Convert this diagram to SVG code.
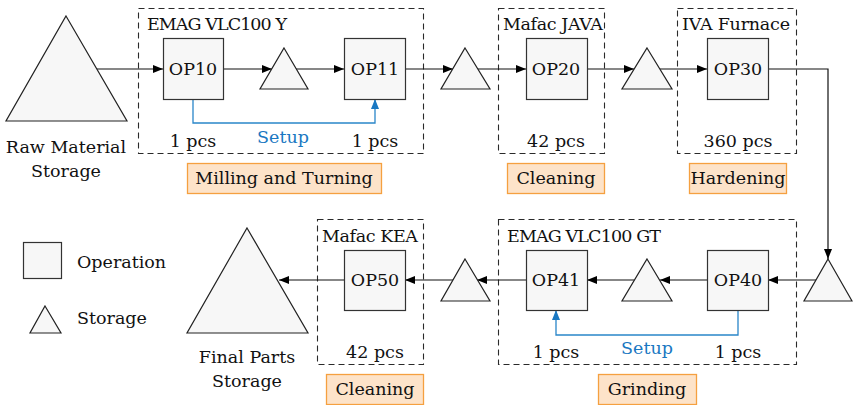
<svg xmlns="http://www.w3.org/2000/svg" width="853" height="405" viewBox="0 0 853 405">
  <style>
    text { font-family: "DejaVu Serif", "Liberation Serif", serif; font-size: 17.5px; fill: #111; }
    .mid { text-anchor: middle; }
    .op { fill: #f7f7f7; stroke: #333; stroke-width: 1.2; }
    .st { fill: #f7f7f7; stroke: #222; stroke-width: 1.2; stroke-linejoin: miter; }
    .machine { fill: none; stroke: #2a2a2a; stroke-width: 1.1; stroke-dasharray: 6 4; }
    .process { fill: #fde3c9; stroke: #f5a040; stroke-width: 1.3; }
    .flow { fill: none; stroke: #111; stroke-width: 1.2; marker-end: url(#arrow); }
    .setup { fill: none; stroke: #2a86c9; stroke-width: 1.3; marker-end: url(#arrowBlue); }
    .blue { fill: #1a78c2; }
  </style>
  <defs>
    <marker id="arrow" viewBox="0 0 10 8" refX="10" refY="4" markerWidth="10" markerHeight="8" markerUnits="userSpaceOnUse" orient="auto">
      <path d="M0,0 L10,4 L0,8 Z" fill="#000"/>
    </marker>
    <marker id="arrowBlue" viewBox="0 0 10 8" refX="10" refY="4" markerWidth="10" markerHeight="8" markerUnits="userSpaceOnUse" orient="auto">
      <path d="M0,0 L10,4 L0,8 Z" fill="#1a78c2"/>
    </marker>
  </defs>

  <!-- machine groupings (dashed) -->
  <g id="machines">
    <rect class="machine" x="138.5" y="8.5" width="285" height="145"/>
    <text x="147" y="30" textLength="140">EMAG VLC100 Y</text>
    <rect class="machine" x="498.5" y="8.5" width="106" height="145"/>
    <text x="503" y="30" textLength="100">Mafac JAVA</text>
    <rect class="machine" x="677.5" y="8.5" width="119" height="145"/>
    <text x="682" y="30" textLength="108">IVA Furnace</text>
    <rect class="machine" x="498.5" y="219.5" width="298" height="145"/>
    <text x="507" y="242" textLength="154">EMAG VLC100 GT</text>
    <rect class="machine" x="317.5" y="219.5" width="106" height="145"/>
    <text x="322" y="242" textLength="96">Mafac KEA</text>
  </g>

  <!-- connectors -->
  <g id="connectors">
    <line class="flow" x1="97" y1="69" x2="163" y2="69"/>
    <line class="flow" x1="223" y1="69" x2="272" y2="69"/>
    <line class="flow" x1="296" y1="69" x2="344" y2="69"/>
    <line class="flow" x1="405" y1="69" x2="453" y2="69"/>
    <line class="flow" x1="477" y1="69" x2="526" y2="69"/>
    <line class="flow" x1="587" y1="69" x2="634" y2="69"/>
    <line class="flow" x1="660" y1="69" x2="707" y2="69"/>
    <polyline class="flow" points="768,69 828,69 828,259"/>
    <line class="flow" x1="816" y1="280" x2="768" y2="280"/>
    <line class="flow" x1="707" y1="280" x2="660" y2="280"/>
    <line class="flow" x1="634" y1="280" x2="587" y2="280"/>
    <line class="flow" x1="526" y1="280" x2="477" y2="280"/>
    <line class="flow" x1="453" y1="280" x2="405" y2="280"/>
    <line class="flow" x1="344" y1="280" x2="279" y2="280"/>
    <polyline class="setup" points="193,99 193,123 375,123 375,99"/>
    <polyline class="setup" points="738,310 738,335 556,335 556,310"/>
  </g>

  <!-- storages -->
  <g id="raw-storage">
    <polygon class="st" points="66,16 127,121 6,121"/>
    <text class="mid" x="66" y="153">Raw Material</text>
    <text class="mid" x="66" y="177">Storage</text>
  </g>
  <g id="buffer-1"><polygon class="st" points="284,48 308,89 260,89"/></g>
  <g id="buffer-2"><polygon class="st" points="465,48 490,89 441,89"/></g>
  <g id="buffer-3"><polygon class="st" points="647,48 672,89 622,89"/></g>
  <g id="buffer-4"><polygon class="st" points="828,259 852,301 804,301"/></g>
  <g id="buffer-5"><polygon class="st" points="647,259 672,301 622,301"/></g>
  <g id="buffer-6"><polygon class="st" points="465,259 490,301 441,301"/></g>
  <g id="final-storage">
    <polygon class="st" points="247,228 308,333 187,333"/>
    <text class="mid" x="247" y="363">Final Parts</text>
    <text class="mid" x="247" y="387">Storage</text>
  </g>

  <!-- operations -->
  <g id="op10">
    <rect class="op" x="163.5" y="38.5" width="60" height="61"/>
    <text class="mid" x="193" y="75">OP10</text>
    <text class="mid" x="193" y="147">1 pcs</text>
  </g>
  <g id="op11">
    <rect class="op" x="344.5" y="38.5" width="61" height="61"/>
    <text class="mid" x="375" y="75">OP11</text>
    <text class="mid" x="375" y="147">1 pcs</text>
  </g>
  <text class="mid blue" x="283" y="143">Setup</text>
  <g id="op20">
    <rect class="op" x="526.5" y="38.5" width="61" height="61"/>
    <text class="mid" x="556" y="75">OP20</text>
    <text class="mid" x="556" y="147">42 pcs</text>
  </g>
  <g id="op30">
    <rect class="op" x="707.5" y="38.5" width="61" height="61"/>
    <text class="mid" x="738" y="75">OP30</text>
    <text class="mid" x="738" y="147">360 pcs</text>
  </g>
  <g id="op40">
    <rect class="op" x="707.5" y="250.5" width="61" height="60"/>
    <text class="mid" x="738" y="286">OP40</text>
    <text class="mid" x="738" y="358">1 pcs</text>
  </g>
  <g id="op41">
    <rect class="op" x="526.5" y="250.5" width="61" height="60"/>
    <text class="mid" x="556" y="286">OP41</text>
    <text class="mid" x="556" y="358">1 pcs</text>
  </g>
  <text class="mid blue" x="647" y="354">Setup</text>
  <g id="op50">
    <rect class="op" x="344.5" y="250.5" width="61" height="60"/>
    <text class="mid" x="375" y="286">OP50</text>
    <text class="mid" x="375" y="358">42 pcs</text>
  </g>

  <!-- process labels -->
  <g id="process-milling">
    <rect class="process" x="187.5" y="163.5" width="194" height="30"/>
    <text class="mid" x="284" y="184">Milling and Turning</text>
  </g>
  <g id="process-cleaning-1">
    <rect class="process" x="507.5" y="163.5" width="97" height="30"/>
    <text class="mid" x="556" y="184">Cleaning</text>
  </g>
  <g id="process-hardening">
    <rect class="process" x="689.5" y="163.5" width="97" height="30"/>
    <text class="mid" x="738" y="184">Hardening</text>
  </g>
  <g id="process-grinding">
    <rect class="process" x="598.5" y="374.5" width="98" height="30"/>
    <text class="mid" x="647" y="395">Grinding</text>
  </g>
  <g id="process-cleaning-2">
    <rect class="process" x="326.5" y="374.5" width="97" height="30"/>
    <text class="mid" x="375" y="395">Cleaning</text>
  </g>

  <!-- legend -->
  <g id="legend">
    <rect class="op" x="23.5" y="242.5" width="38" height="36"/>
    <text x="77" y="268">Operation</text>
    <polygon class="st" points="45,306 61,333 30,333"/>
    <text x="77" y="324">Storage</text>
  </g>
</svg>
